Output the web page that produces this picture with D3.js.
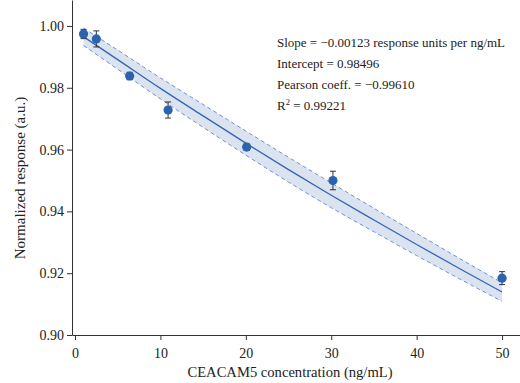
<!DOCTYPE html>
<html>
<head>
<meta charset="utf-8">
<script src="https://cdn.jsdelivr.net/npm/d3@7"></script>
<style>
  body { margin: 0; background: #fff; }
  svg text { font-family: "Liberation Serif", "DejaVu Serif", serif; fill: #222; }
</style>
</head>
<body>
<div id="main"></div>
<script>
// measured points
var concX = [1, 2.5, 6.4, 10.9, 20.1, 30.2, 50];
var respY = [0.9974, 0.9958, 0.9838, 0.9728, 0.9608, 0.9500, 0.9184];
var respErr = [0.0015, 0.0026, 0.0012, 0.0026, 0.0010, 0.0030, 0.0021];

// fitted curve and its band
var fitX = [1, 5, 10, 15, 20, 25, 30, 35, 40, 45, 50];
var fitY = [0.9965, 0.9891, 0.9798, 0.9709, 0.9621, 0.9535, 0.9452, 0.9372, 0.9293, 0.9215, 0.9139];
var bandHi = [0.9993, 0.9922, 0.9832, 0.9746, 0.9660, 0.9575, 0.9492, 0.9410, 0.9329, 0.9248, 0.9169];
var bandLo = [0.9937, 0.9860, 0.9764, 0.9672, 0.9582, 0.9495, 0.9412, 0.9334, 0.9257, 0.9182, 0.9109];

var xTicks = [0, 10, 20, 30, 40, 50];
var yTicks = [0.90, 0.92, 0.94, 0.96, 0.98, 1.00];

var statLines = [
    'Slope = \u22120.00123 response units per ng/mL',
    'Intercept = 0.98496',
    'Pearson coeff. = \u22120.99610'
];

const w = 520, h = 383;
const margin = { top: 0, right: 0, bottom: 48, left: 72 };

const svg = d3.select('#main')
            .append('svg')
            .attr('width', w)
            .attr('height', h);

const x = d3.scaleLinear()
            .domain([-0.35, 52.1])
            .range([margin.left, w - margin.right]);

const y = d3.scaleLinear()
            .domain([0.9, 1.0084])
            .range([h - margin.bottom, margin.top]);

// confidence band //
const band = fitX.map((d, i) => ({ x: d, hi: bandHi[i], lo: bandLo[i], f: fitY[i] }));

svg.append('path')
    .datum(band)
    .attr('fill', '#dbe3f1')
    .attr('d', d3.area()
        .x(d => x(d.x))
        .y0(d => y(d.lo))
        .y1(d => y(d.hi))
        .curve(d3.curveMonotoneX));

['hi', 'lo'].forEach(k => {
    svg.append('path')
        .datum(band)
        .attr('fill', 'none')
        .attr('stroke', '#6f92d2')
        .attr('stroke-width', 1)
        .attr('stroke-dasharray', '4,3')
        .attr('d', d3.line().x(d => x(d.x)).y(d => y(d[k])).curve(d3.curveMonotoneX));
});

// fit line
svg.append('path')
    .datum(band)
    .attr('fill', 'none')
    .attr('stroke', '#3566b0')
    .attr('stroke-width', 1.3)
    .attr('d', d3.line().x(d => x(d.x)).y(d => y(d.f)).curve(d3.curveMonotoneX));

// axes //
const xAxis = d3.axisBottom(x).tickValues(xTicks).tickFormat(d3.format('d')).tickSize(5).tickSizeOuter(0);
const yAxis = d3.axisLeft(y).tickValues(yTicks).tickFormat(d3.format('.2f')).tickSize(5).tickSizeOuter(0);

const gx = svg.append('g')
    .attr('transform', `translate(0,${h - margin.bottom})`)
    .call(xAxis);
const gy = svg.append('g')
    .attr('transform', `translate(${margin.left},0)`)
    .call(yAxis);

[gx, gy].forEach(g => {
    g.selectAll('.domain').attr('stroke', '#333');
    g.selectAll('.tick line').attr('stroke', '#333');
    g.selectAll('.tick text').style('font-size', '14px').attr('fill', '#222');
});
gx.selectAll('.tick text').attr('dy', '1.05em');

// error bars
const pts = concX.map((d, i) => ({ x: d, y: respY[i], e: respErr[i] }));
const eb = svg.append('g').attr('stroke', '#333').attr('stroke-width', 1);
eb.selectAll('.ebv').data(pts).enter().append('line')
    .attr('x1', d => x(d.x)).attr('x2', d => x(d.x))
    .attr('y1', d => y(d.y - d.e)).attr('y2', d => y(d.y + d.e));
eb.selectAll('.ebt').data(pts).enter().append('line')
    .attr('x1', d => x(d.x) - 3).attr('x2', d => x(d.x) + 3)
    .attr('y1', d => y(d.y + d.e)).attr('y2', d => y(d.y + d.e));
eb.selectAll('.ebb').data(pts).enter().append('line')
    .attr('x1', d => x(d.x) - 3).attr('x2', d => x(d.x) + 3)
    .attr('y1', d => y(d.y - d.e)).attr('y2', d => y(d.y - d.e));

// points
svg.append('g')
    .selectAll('circle')
    .data(pts)
    .enter()
    .append('circle')
    .attr('cx', d => x(d.x))
    .attr('cy', d => y(d.y))
    .attr('r', 4.6)
    .attr('fill', '#2a63ae');

// axis titles
svg.append('text')
    .attr('x', 290)
    .attr('y', 377)
    .attr('text-anchor', 'middle')
    .style('font-size', '14.6px')
    .text('CEACAM5 concentration (ng/mL)');

svg.append('text')
    .attr('transform', `translate(25,178) rotate(-90)`)
    .attr('text-anchor', 'middle')
    .style('font-size', '15px')
    .text('Normalized response (a.u.)');

// stats box
const st = svg.append('g').attr('transform', 'translate(277,47)');
statLines.forEach((s, i) => {
    st.append('text')
        .attr('y', i * 21)
        .style('font-size', '13px')
        .text(s);
});
const r2 = st.append('text').attr('y', 3 * 21).style('font-size', '13px');
r2.append('tspan').text('R');
r2.append('tspan').attr('dy', -5).style('font-size', '8.5px').text('2');
r2.append('tspan').attr('dy', 5).text(' = 0.99221');
</script>
</body>
</html>
